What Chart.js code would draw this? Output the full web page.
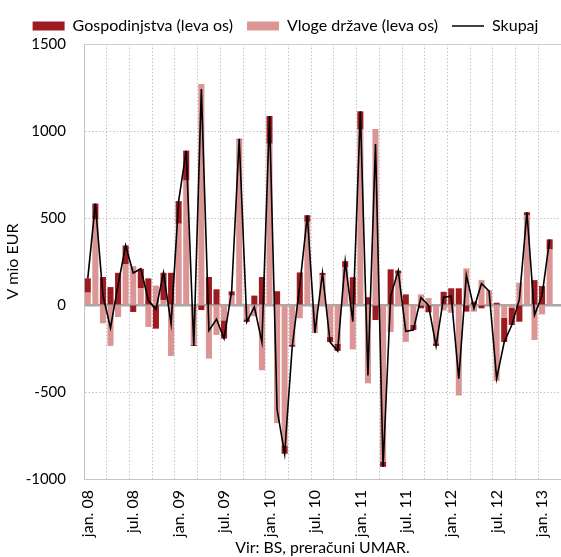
<!DOCTYPE html>
<html>
<head>
<meta charset="utf-8">
<script src="https://cdn.jsdelivr.net/npm/chart.js@4/dist/chart.umd.min.js"></script>
<style>
html,body{margin:0;padding:0;background:#fff;}
#wrap{width:561px;height:557px;}
</style>
</head>
<body>
<div id="wrap"><canvas id="c" width="561" height="557"></canvas></div>
<script>
// Categories: months (last slot is empty in the source chart)
const months = [
 'jan.08','feb.08','mar.08','apr.08','maj.08','jun.08','jul.08','avg.08','sep.08','okt.08','nov.08','dec.08',
 'jan.09','feb.09','mar.09','apr.09','maj.09','jun.09','jul.09','avg.09','sep.09','okt.09','nov.09','dec.09',
 'jan.10','feb.10','mar.10','apr.10','maj.10','jun.10','jul.10','avg.10','sep.10','okt.10','nov.10','dec.10',
 'jan.11','feb.11','mar.11','apr.11','maj.11','jun.11','jul.11','avg.11','sep.11','okt.11','nov.11','dec.11',
 'jan.12','feb.12','mar.12','apr.12','maj.12','jun.12','jul.12','avg.12','sep.12','okt.12','nov.12','dec.12',
 'jan.13','feb.13','mar.13'
];

// Gospodinjstva (households), V mio EUR
const gospodinjstva = [
  82, 92, 161, 103, 185, 109, -40, 112, 153, -136, 158, 185,
  130, 172, -5, -29, 161, 90, -105, 24, 5, -15, 54, 161,
  159, 79, -48, -10, 187, 38, -3, 12, -29, -42, 34, 160,
  105, 45, -86, -30, 205, 18, 61, -29, -19, -42, -15, 76,
  96, 96, -38, 19, -19, -5, 13, -140, -100, -96, 19, 143,
  109, 58
];

// Vloge države (government deposits), V mio EUR
const vlogeDrzave = [
  71, 491, -105, -235, -69, 233, 224, 96, -126, 111, 27, -293,
  467, 715, -230, 1270, -308, -172, -88, 54, 950, -82, -65, -375,
  927, -679, -807, -230, -76, 478, -157, 172, -184, -222, 218, -255,
  1008, -450, 1011, -900, -155, 180, -212, -115, 61, 40, -220, -31,
  -45, -520, 210, -38, 143, 85, -436, -73, -15, 128, 514, -201,
  -54, 319
];

// Skupaj (total), V mio EUR
const skupaj = [
  153, 583, 56, -132, 116, 342, 184, 208, 27, -25, 185, -108,
  597, 887, -235, 1241, -147, -82, -193, 78, 955, -97, -11, -214,
  1086, -600, -855, -240, 111, 516, -160, 184, -213, -264, 252, -95,
  1113, -405, 925, -930, 50, 198, -151, -144, 42, -2, -235, 45,
  51, -424, 172, -19, 124, 80, -423, -213, -115, 32, 533, -58,
  55, 377
];

// Visible x-axis tick labels (every 6th month)
const xTickLabels = ['jan. 08','jul. 08','jan. 09','jul. 09','jan. 10','jul. 10','jan. 11','jul. 11','jan. 12','jul. 12','jan. 13'];

// Y-axis ticks
const yMin = -1000, yMax = 1500, yStep = 500;

const FONT = 'Lato, "Open Sans", sans-serif';
const DARK = '#9c1b21';
const PINK = '#da9594';

new Chart(document.getElementById('c'), {
  data: {
    labels: months,
    datasets: [
      { type: 'bar', label: 'Gospodinjstva (leva os)', data: gospodinjstva,
        backgroundColor: DARK, borderWidth: 0, order: 2, stack: 'bars',
        barPercentage: 0.8, categoryPercentage: 1.0, xAxisID: 'x', yAxisID: 'y' },
      { type: 'bar', label: 'Vloge države (leva os)', data: vlogeDrzave,
        backgroundColor: PINK, borderWidth: 0, order: 1, stack: 'bars',
        barPercentage: 0.8, categoryPercentage: 1.0, xAxisID: 'x', yAxisID: 'y' },
      { type: 'line', label: 'Skupaj', data: skupaj, stack: 'total',
        borderColor: '#000', backgroundColor: '#000', borderWidth: 1.6,
        pointRadius: 0, tension: 0, fill: false, order: 0, xAxisID: 'x', yAxisID: 'y' }
    ]
  },
  options: {
    responsive: false,
    animation: false,
    layout: { padding: { top: 4, left: 10, right: 0, bottom: 0 } },
    plugins: {
      tooltip: { enabled: false },
      legend: {
        position: 'top',
        labels: {
          font: { family: FONT, size: 16 },
          color: '#000',
          usePointStyle: true,
          pointStyleWidth: 32,
          boxHeight: 9,
          boxWidth: 32,
          padding: 14,
          sort: (a, b) => a.datasetIndex - b.datasetIndex,
          generateLabels: (chart) => {
            const items = Chart.defaults.plugins.legend.labels.generateLabels(chart);
            items.forEach(it => {
              const ds = chart.data.datasets[it.datasetIndex];
              if (ds.type === 'line') {
                it.pointStyle = 'line'; it.strokeStyle = '#000'; it.lineWidth = 1.5; it.fillStyle = '#000';
              } else {
                it.pointStyle = 'rect'; it.lineWidth = 0; it.fillStyle = ds.backgroundColor; it.strokeStyle = ds.backgroundColor;
              }
            });
            return items;
          }
        }
      }
    },
    scales: {
      x: {
        type: 'category',
        offset: true,
        stacked: true,
        position: 'bottom',
        ticks: {
          autoSkip: false,
          minRotation: 90,
          maxRotation: 90,
          padding: 11,
          color: '#000',
          font: { family: FONT, size: 16 },
          callback: (v, i) => (i % 6 === 0 && xTickLabels[i / 6] !== undefined ? xTickLabels[i / 6] : '')
        },
        grid: {
          offset: true,
          drawTicks: false,
          color: (ctx) => (ctx.index % 3 === 0 ? '#c4c4c4' : 'rgba(0,0,0,0)'),
          lineWidth: 1
        },
        border: { display: true, color: '#c4c4c4', width: 1, dash: [1.5, 2] },
        title: {
          display: true,
          text: 'Vir: BS, preračuni UMAR.',
          color: '#000',
          font: { family: FONT, size: 15.8 },
          padding: { top: 0, bottom: 0 }
        },
        afterFit: (s) => { s.height = 78; s.paddingLeft = 0; s.paddingRight = 0; }
      },
      y: {
        type: 'linear',
        position: 'left',
        stacked: true,
        min: yMin, max: yMax,
        ticks: {
          stepSize: yStep, padding: 18, color: '#000',
          font: { family: FONT, size: 15 },
          callback: (v) => String(v)
        },
        grid: { drawTicks: false, color: '#c4c4c4', lineWidth: 1 },
        border: { display: true, color: '#c4c4c4', width: 1, dash: [1.5, 2] },
        title: {
          display: true, text: 'V mio EUR', color: '#000',
          font: { family: FONT, size: 16 },
          padding: { top: -7, bottom: 0 }
        },
        afterFit: (s) => { s.width = 74; }
      },
      y0: {
        type: 'linear',
        position: 'left',
        min: yMin, max: yMax,
        ticks: { display: false },
        grid: {
          drawTicks: false,
          color: (ctx) => (ctx.tick && ctx.tick.value === 0 ? '#a8a8a8' : '#cccccc'),
          lineWidth: (ctx) => (ctx.tick && ctx.tick.value === 0 ? 2.5 : 1)
        },
        border: { display: false },
        afterBuildTicks: (s) => { s.ticks = [{ value: yMin }, { value: 0 }, { value: yMax }]; },
        afterFit: (s) => { s.width = 0; }
      }
    }
  }
});
</script>
</body>
</html>
